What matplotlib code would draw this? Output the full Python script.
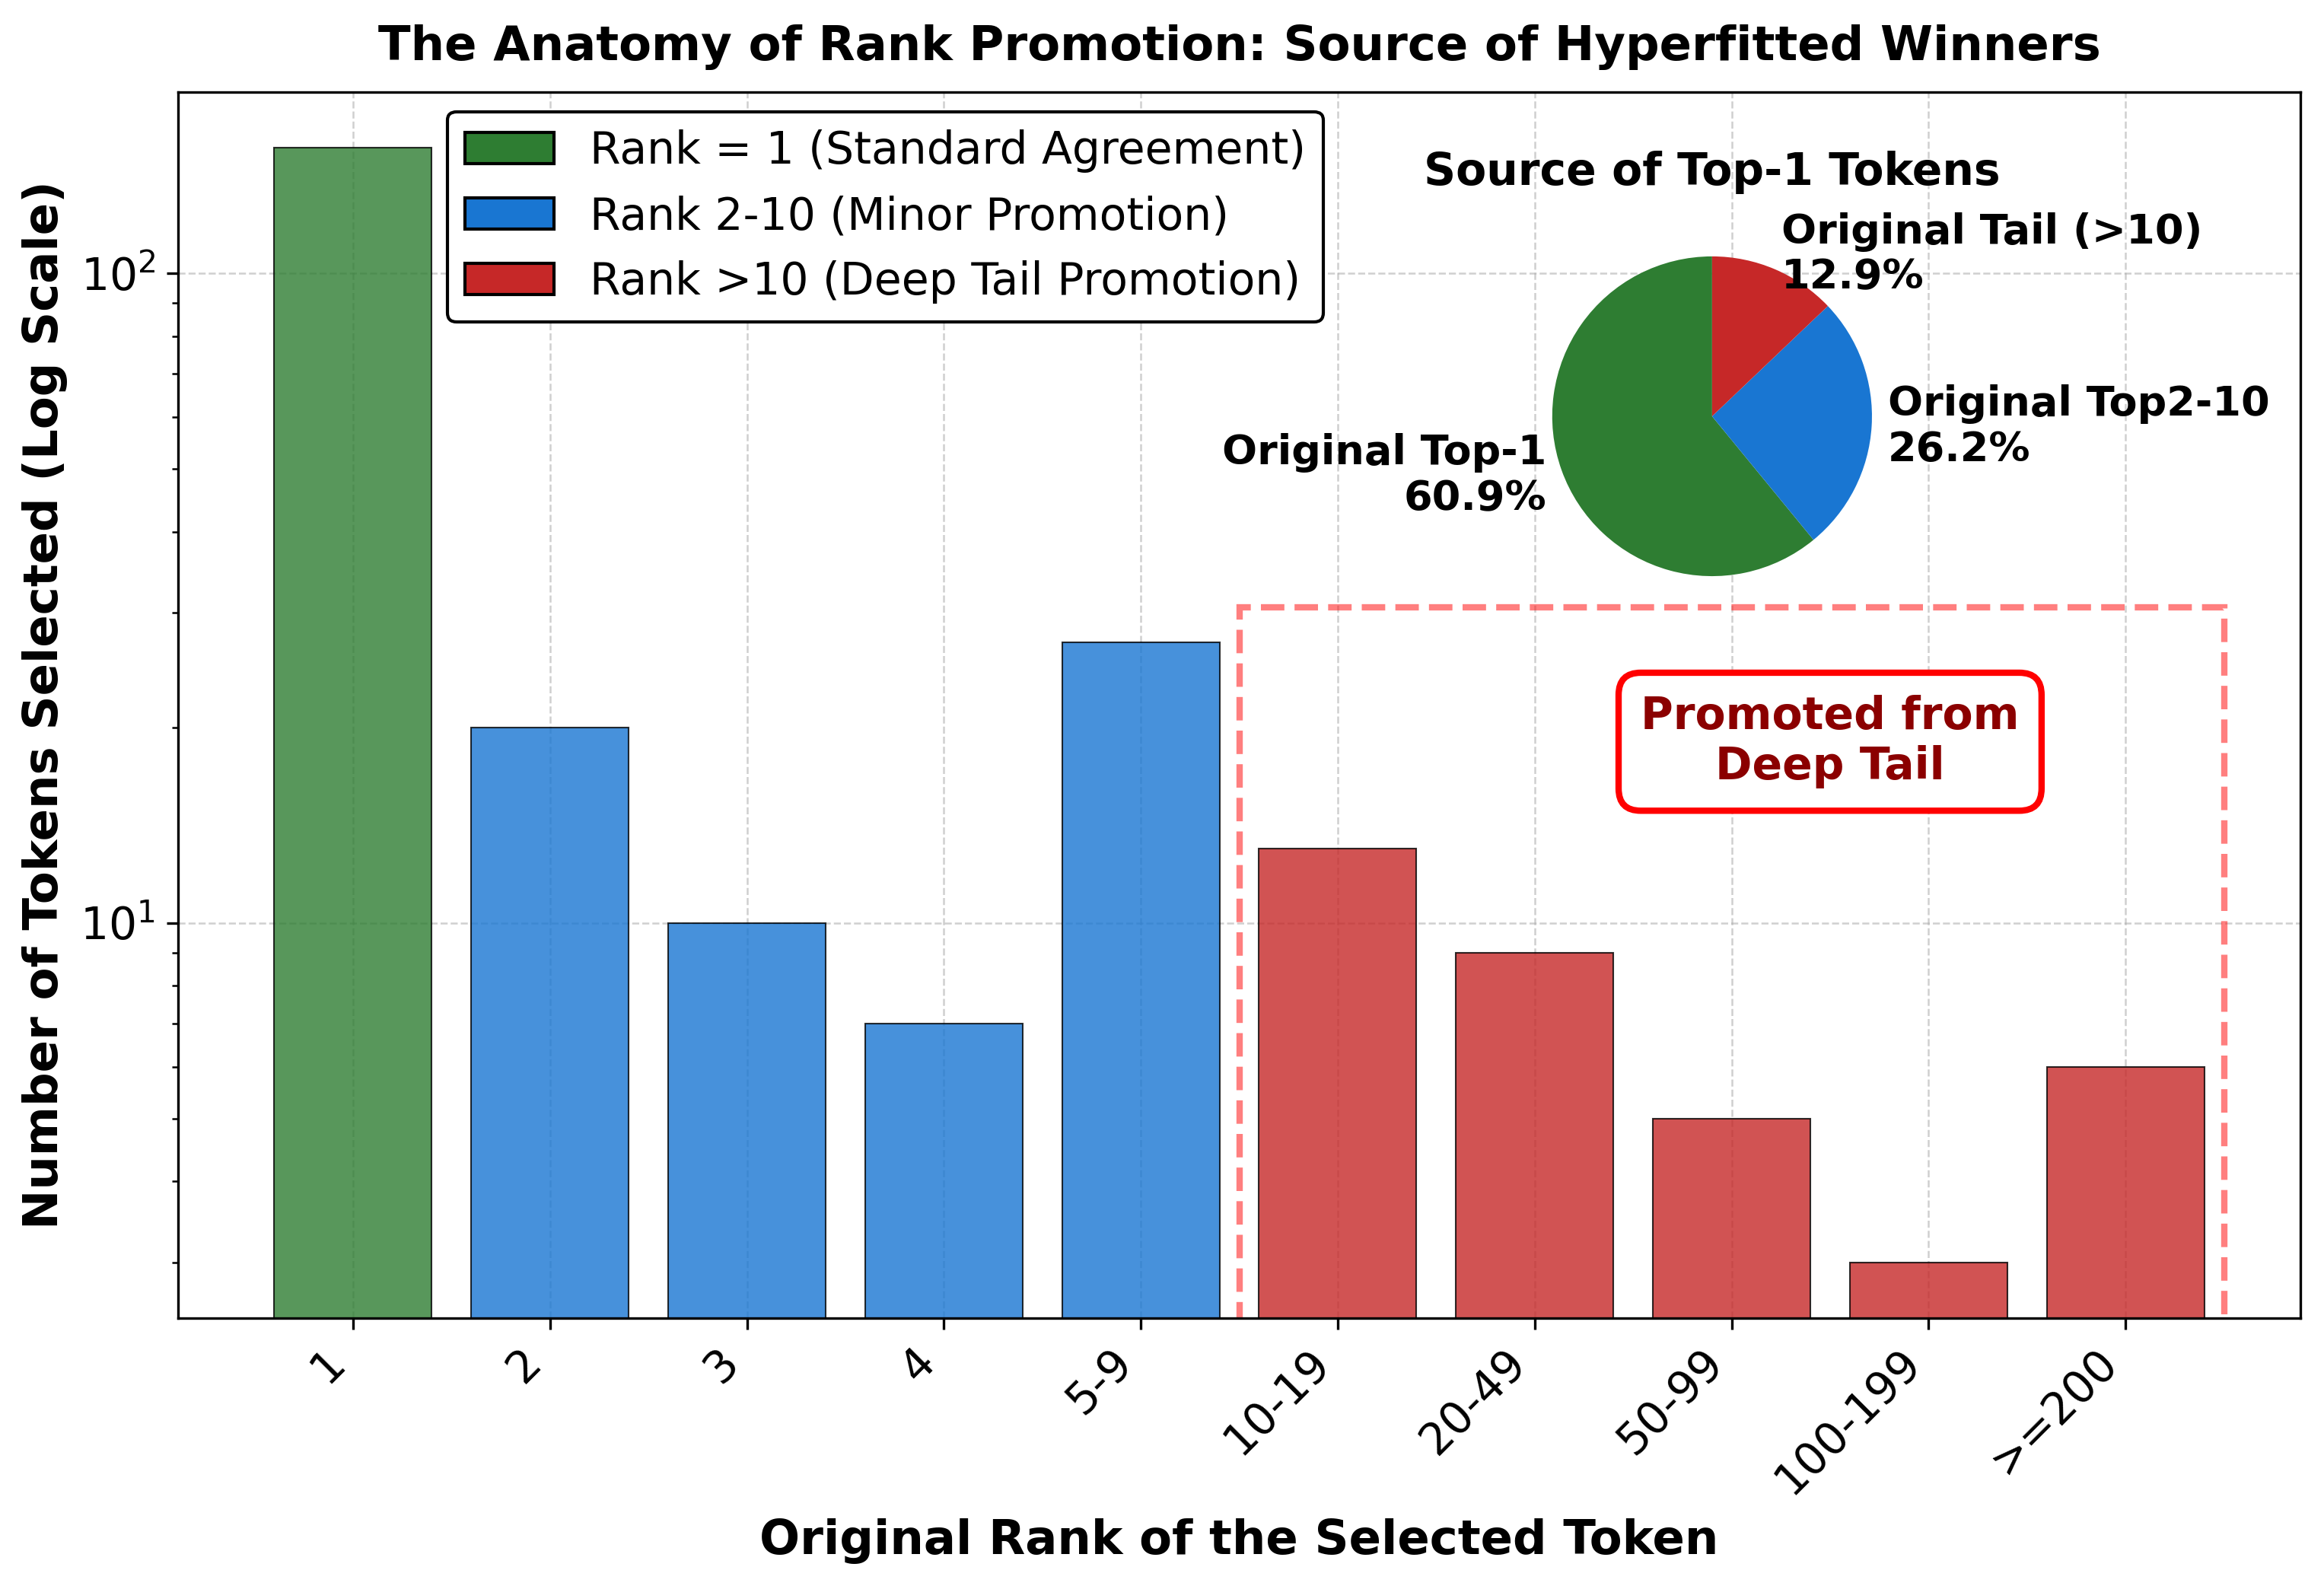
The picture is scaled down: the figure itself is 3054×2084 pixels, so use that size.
import numpy as np
import matplotlib
matplotlib.use("Agg")
import matplotlib.pyplot as plt
from matplotlib.patches import Patch, Rectangle

# bar data
rank_bins = ["1", "2", "3", "4", "5-9", "10-19", "20-49", "50-99", "100-199", ">=200"]
token_counts = [156, 20, 10, 7, 27, 13, 9, 5, 3, 6]
bin_group = ["top1", "minor", "minor", "minor", "minor", "tail", "tail", "tail", "tail", "tail"]

# pie data
pie_labels = ["Original Top-1", "Original Top2-10", "Original Tail (>10)"]
pie_counts = [156, 67, 33]

green, blue, red = "#2E7D32", "#1976D2", "#C62828"
group_color = {"top1": green, "minor": blue, "tail": red}

fig = plt.figure(figsize=(10.18, 6.947), dpi=300)
ax = fig.add_axes([0.0765, 0.169, 0.9135, 0.773])

x = np.arange(len(rank_bins))
ax.bar(x, token_counts, width=0.8, color=[group_color[g] for g in bin_group],
       alpha=0.8, edgecolor="black", linewidth=0.5, zorder=2)
ax.set_yscale("log")
ax.set_ylim(2.466, 190)
ax.set_xticks(x)
ax.set_xticklabels(rank_bins, rotation=45, ha="right", fontsize=14)
ax.tick_params(axis="y", labelsize=14)
ax.grid(True, linestyle="--", linewidth=0.6, alpha=0.6, zorder=0)
ax.set_axisbelow(True)

ax.set_xlabel("Original Rank of the Selected Token", fontsize=15, fontweight="bold", labelpad=5)
ax.set_ylabel("Number of Tokens Selected (Log Scale)", fontsize=15, fontweight="bold")
ax.set_title("The Anatomy of Rank Promotion: Source of Hyperfitted Winners",
             fontsize=15, fontweight="bold", pad=10)

# deep tail highlight
ax.add_patch(Rectangle((4.5, 2.3), 5, 30.6 - 2.3, fill=False, edgecolor="red",
                       linestyle="--", linewidth=2, alpha=0.5, zorder=1.5))
ax.text(7.5, 19, "Promoted from\nDeep Tail", ha="center", va="center", fontsize=14,
        fontweight="bold", color="darkred",
        bbox=dict(boxstyle="round,pad=0.5", facecolor="white", edgecolor="red", linewidth=2))

handles = [Patch(facecolor=green, edgecolor="black", label="Rank = 1 (Standard Agreement)"),
           Patch(facecolor=blue, edgecolor="black", label="Rank 2-10 (Minor Promotion)"),
           Patch(facecolor=red, edgecolor="black", label="Rank >10 (Deep Tail Promotion)")]
ax.legend(handles=handles, loc="upper left", bbox_to_anchor=(0.127, 0.984), borderaxespad=0,
          fontsize=14, framealpha=1, edgecolor="black")

# inset pie
cx, cy, rw, rh = 0.7367, 0.7375, 0.0688 * 1.25, 0.1008 * 1.25
pax = fig.add_axes([cx - rw, cy - rh, 2 * rw, 2 * rh])
total = sum(pie_counts)
labels = [f"{n}\n{c / total * 100:.1f}%" for n, c in zip(pie_labels, pie_counts)]
pax.pie(pie_counts, labels=labels, colors=[green, blue, red], startangle=90,
        textprops=dict(fontsize=13, fontweight="bold"))
pax.set_title("Source of Top-1 Tokens", fontsize=14, fontweight="bold", pad=10)

fig.savefig("out.png", dpi=300)
